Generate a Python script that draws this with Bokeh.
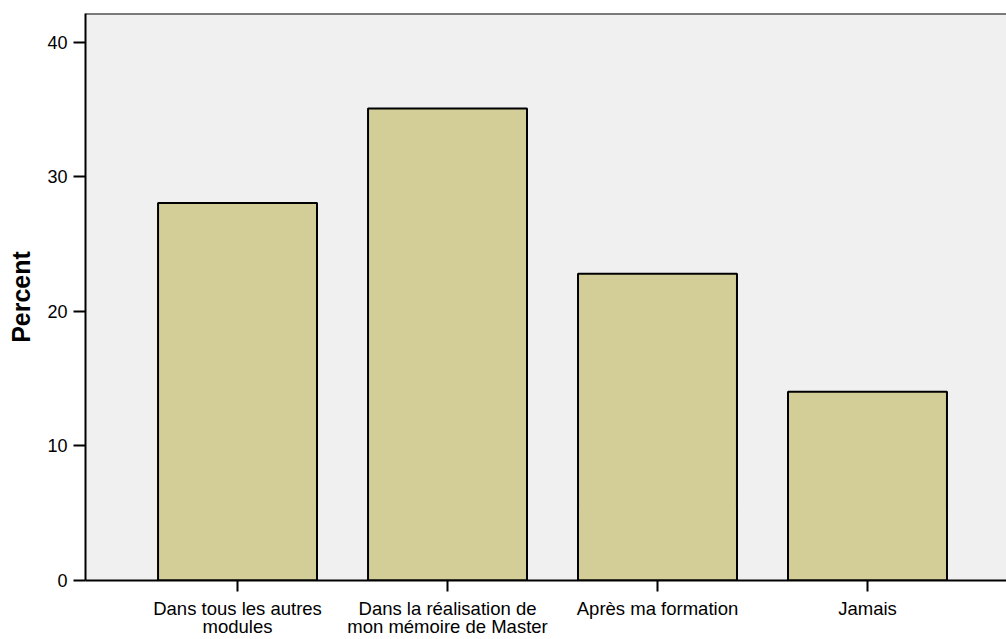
from bokeh.plotting import figure
from bokeh.models import Range1d, FixedTicker, Span, ColumnDataSource
from bokeh.embed import file_html
from bokeh.resources import INLINE

categories = ["Dans tous les autres\nmodules",
              "Dans la réalisation de\nmon mémoire de Master",
              "Après ma formation",
              "Jamais"]
percent = [28.07, 35.09, 22.81, 14.04]
y_ticks = [0, 10, 20, 30, 40]

xpos = list(range(1, len(categories) + 1))
src = ColumnDataSource(dict(x=xpos, top=percent))

p = figure(width=1006, height=639, output_backend="svg", toolbar_location=None,
           x_range=Range1d(0.276, 4.662), y_range=Range1d(0, 42.15),
           min_border_left=85, min_border_right=0, min_border_top=13,
           min_border_bottom=58)

p.background_fill_color = "#F0F0F0"
p.border_fill_color = "white"
p.outline_line_color = None
p.grid.visible = False

p.vbar(x="x", top="top", width=0.757, bottom=0, source=src,
       fill_color="#D3CE97", line_color="black", line_width=2)

p.add_layout(Span(location=42.15, dimension="width", line_color="black", line_width=2))

FONT = "Liberation Sans"

p.xaxis.ticker = FixedTicker(ticks=xpos)
p.xaxis.major_label_overrides = {i: c for i, c in zip(xpos, categories)}
p.xaxis.major_label_text_font = FONT
p.xaxis.major_label_text_font_size = "18.5px"
p.xaxis.major_label_text_line_height = 0.88
p.xaxis.major_label_text_color = "black"
p.xaxis.major_label_standoff = 6
p.xaxis.major_tick_out = 11
p.xaxis.major_tick_in = 0
p.xaxis.minor_tick_line_color = None
p.xaxis.axis_line_width = 2
p.xaxis.major_tick_line_width = 2
p.xaxis.axis_line_color = "black"

p.yaxis.ticker = FixedTicker(ticks=y_ticks)
p.yaxis.major_label_text_font = FONT
p.yaxis.major_label_text_font_size = "18px"
p.yaxis.major_label_text_color = "black"
p.yaxis.major_label_standoff = 6
p.yaxis.major_tick_out = 12
p.yaxis.major_tick_in = 0
p.yaxis.minor_tick_line_color = None
p.yaxis.axis_line_width = 2
p.yaxis.major_tick_line_width = 2
p.yaxis.axis_label = "Percent"
p.yaxis.axis_label_text_font = FONT
p.yaxis.axis_label_text_font_style = "bold"
p.yaxis.axis_label_text_font_size = "25px"
p.yaxis.axis_label_text_color = "black"
p.yaxis.axis_label_standoff = 9

open("out.html", "w").write(file_html(p, INLINE))
